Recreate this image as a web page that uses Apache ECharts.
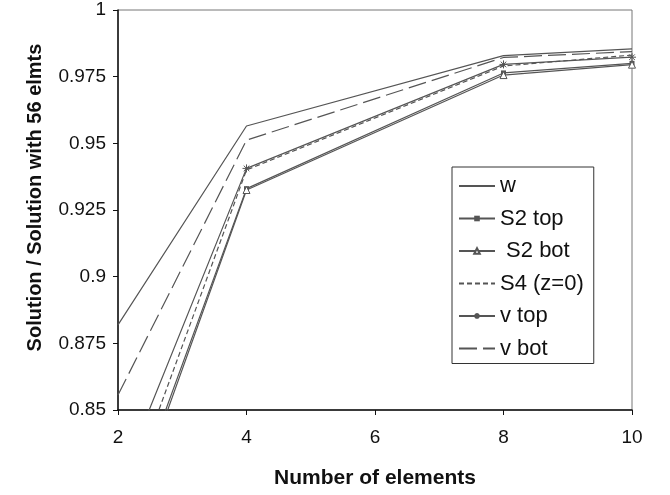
<!DOCTYPE html>
<html><head><meta charset="utf-8">
<script src="https://cdn.jsdelivr.net/npm/echarts@6/dist/echarts.min.js"></script>
<style>html,body{margin:0;padding:0;background:#fff}#c{width:670px;height:495px}</style>
</head><body><div id="c"></div>
<script>
const xValues = [2, 4, 8, 10];
const seriesNames = ['w', 'S2 top', ' S2 bot', 'S4 (z=0)', 'v top', 'v bot'];
const w      = [0.8819, 0.9565, 0.9829, 0.9854];
const s2top  = [0.8010, 0.9330, 0.9764, 0.9800];
const s2bot  = [0.7980, 0.9325, 0.9756, 0.9795];
const s4     = [0.8080, 0.9400, 0.9790, 0.9831];
const vtop   = [0.8210, 0.9406, 0.9796, 0.9823];
const vbot   = [0.8556, 0.9512, 0.9822, 0.9844];
const yTicks = [0.85, 0.875, 0.9, 0.925, 0.95, 0.975, 1];

const grey = '#555';
const FONT = 'Liberation Sans, Arial, sans-serif';
function pts(v){ return xValues.map((x,i)=>[x,v[i]]); }
function mk(name, data, opt){
  return Object.assign({
    name, type:'line', data: pts(data), clip:true,
    showSymbol:false, symbol:'none',
    lineStyle:{color:grey, width:1.2, type:'solid'},
    itemStyle:{color:grey},
    emphasis:{disabled:true}, animation:false
  }, opt||{});
}
const star = 'path://M5,0L5,10M0,5L10,5M1.5,1.5L8.5,8.5M1.5,8.5L8.5,1.5';
const series = [
  mk(seriesNames[0], w),
  mk(seriesNames[1], s2top, {showSymbol:true, symbol:'rect', symbolSize:5}),
  mk(seriesNames[2], s2bot, {showSymbol:true, symbol:'triangle', symbolSize:7,
     itemStyle:{color:'#fff', borderColor:grey, borderWidth:1}}),
  mk(seriesNames[3], s4, {lineStyle:{color:grey, width:1.2, type:[5,3]}}),
  mk(seriesNames[4], vtop, {showSymbol:true, symbol:star, symbolSize:8,
     itemStyle:{color:grey, borderColor:grey, borderWidth:1}}),
  mk(seriesNames[5], vbot, {lineStyle:{color:grey, width:1.2, type:[18,6]}})
];
const noMarker = {color:'rgba(0,0,0,0)', borderColor:'rgba(0,0,0,0)', borderWidth:0};
const legendData = seriesNames.map((n,i)=> (i===0||i===3||i===5) ? {name:n, itemStyle:noMarker} : {name:n});

const chart = echarts.init(document.getElementById('c'), null, {renderer:'canvas'});
chart.setOption({
  animation:false,
  backgroundColor:'#fff',
  textStyle:{fontFamily:FONT},
  grid:{left:118, right:38, top:10, bottom:85, show:true, borderColor:'#777', borderWidth:1},
  legend:{
    orient:'vertical', left:452, top:167,
    data: legendData,
    itemWidth:36, itemHeight:7, itemGap:10.5,
    padding:[8,10,4,6],
    borderColor:'#333', borderWidth:1, backgroundColor:'#fff',
    textStyle:{fontSize:22, color:'#111', fontFamily:FONT},
    inactiveColor:'#555', selectedMode:false
  },
  xAxis:{
    type:'value', min:2, max:10, interval:2,
    name:'Number of elements', nameLocation:'middle', nameGap:58,
    nameTextStyle:{fontSize:21, fontWeight:'bold', color:'#111'},
    axisLine:{lineStyle:{color:'#111', width:1.5}},
    axisTick:{show:true, length:5, lineStyle:{color:'#111'}},
    axisLabel:{fontSize:19, color:'#111', margin:18},
    splitLine:{show:false}
  },
  yAxis:{
    type:'value', min:0.85, max:1, interval:0.025,
    name:'Solution / Solution with 56 elmts', nameLocation:'middle', nameGap:73,
    nameTextStyle:{fontSize:20, fontWeight:'bold', color:'#111', padding:[0,0,0,25]},
    axisLine:{show:true, lineStyle:{color:'#111', width:1.5}},
    axisTick:{show:true, length:5, lineStyle:{color:'#111'}},
    axisLabel:{fontSize:19, color:'#111', margin:12,
      formatter: v => { const t = yTicks.find(k=>Math.abs(k-v)<1e-9); return t===undefined? '' : String(t); }},
    splitLine:{show:false}
  },
  series
});
</script></body></html>
